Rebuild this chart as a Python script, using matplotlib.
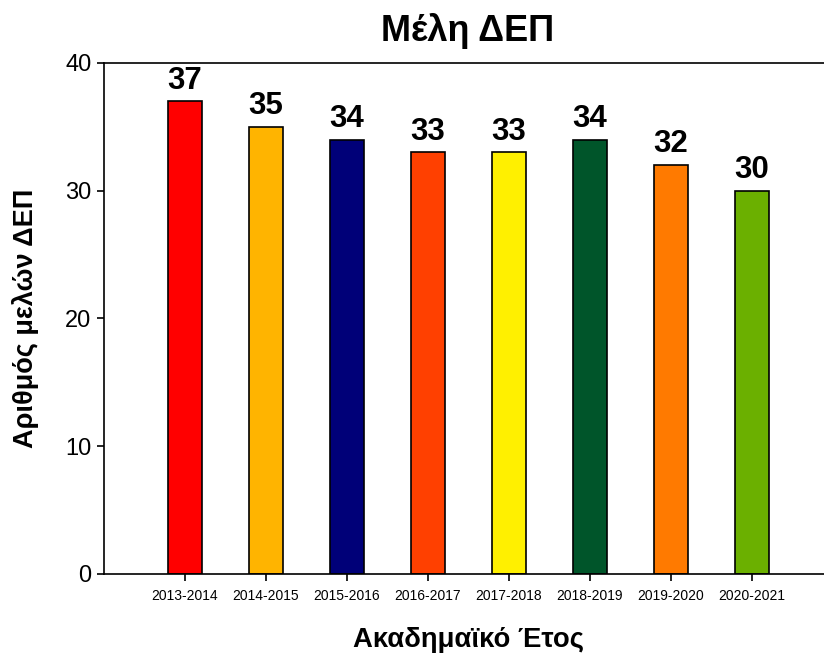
import matplotlib.pyplot as plt
import numpy as np

plt.rcParams['font.family'] = ['Liberation Sans', 'DejaVu Sans']

years = ['2013-2014', '2014-2015', '2015-2016', '2016-2017',
         '2017-2018', '2018-2019', '2019-2020', '2020-2021']
members = [37, 35, 34, 33, 33, 34, 32, 30]
colors = ['#FF0000', '#FFB400', '#000078', '#FF4000',
          '#FFF000', '#00552A', '#FF7A00', '#6BB000']

fig = plt.figure(figsize=(8.24, 6.55), dpi=100)
ax = fig.add_axes([0.1262, 0.1237, 0.8847, 0.7802])

x = np.arange(len(years))
bars = ax.bar(x, members, width=0.41, color=colors, edgecolor='black', linewidth=1.2)

# value on top of each bar
for xi, v in zip(x, members):
    ax.text(xi, v + 0.45, str(v), ha='center', va='bottom',
            fontsize=22.5, fontweight='bold')

ax.set_xlim(-1, 8)
ax.set_ylim(0, 40)
ax.set_yticks([0, 10, 20, 30, 40])
ax.set_xticks(x)
ax.set_xticklabels(years, fontsize=10)
ax.tick_params(axis='y', labelsize=17, length=5, width=1.2, direction='out', pad=4)
ax.tick_params(axis='x', length=5, width=1.2, direction='out', pad=6)

for s in ['left', 'bottom', 'top']:
    ax.spines[s].set_linewidth(1.2)
ax.spines['right'].set_visible(False)

# axis titles placed in figure coordinates
fig.text(0.569, 0.023, 'Ακαδημαϊκό Έτος', ha='center', va='center',
         fontsize=19.8, fontweight='bold')
fig.text(0.031, 0.514, 'Αριθμός μελών ΔΕΠ', ha='center', va='center',
         rotation=90, fontsize=19.5, fontweight='bold')
fig.text(0.568, 0.953, 'Μέλη ΔΕΠ', ha='center', va='center',
         fontsize=26, fontweight='bold')

plt.savefig('out.png', dpi=100)
